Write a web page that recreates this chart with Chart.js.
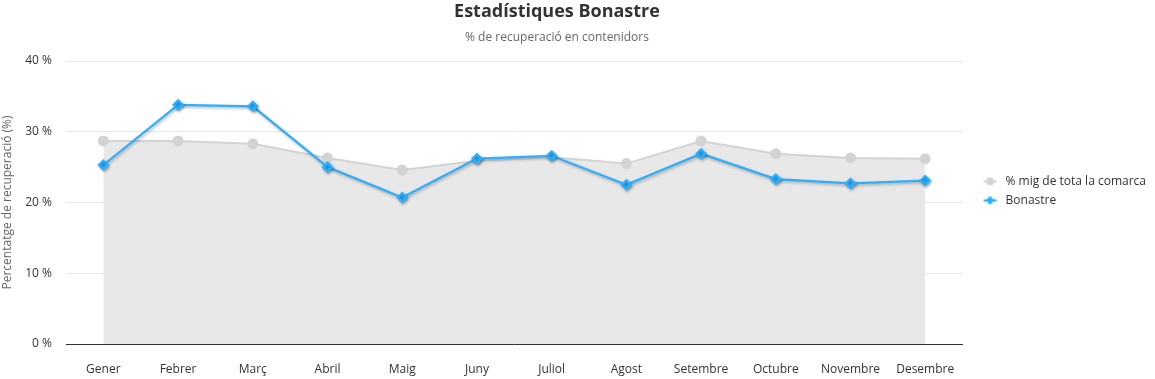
<!DOCTYPE html>
<html><head><meta charset="utf-8">
<script src="https://cdn.jsdelivr.net/npm/chart.js@4/dist/chart.umd.min.js"></script>
<style>html,body{margin:0;padding:0;background:#fff}#w{width:1155px;height:379px}</style>
</head><body><div id="w"><canvas id="c"></canvas></div>
<script>
const categories = ['Gener','Febrer','Març','Abril','Maig','Juny','Juliol','Agost','Setembre','Octubre','Novembre','Desembre'];
const comarcaValues = [28.7, 28.7, 28.3, 26.3, 24.6, 25.9, 26.4, 25.5, 28.7, 26.9, 26.3, 26.2];
const bonastreValues = [25.3, 33.8, 33.6, 25.0, 20.7, 26.2, 26.6, 22.5, 26.9, 23.3, 22.7, 23.1];
const yTicks = [0, 10, 20, 30, 40];
const seriesNames = ['% mig de tota la comarca', 'Bonastre'];
const titleText = 'Estadístiques Bonastre';
const subtitleText = '% de recuperació en contenidors';
const yTitle = 'Percentatge de recuperació (%)';

const FONT = "'Open Sans', 'Noto Sans', sans-serif";
const GREY = '#d3d3d3', BLUE = '#2caffe';

function legendIcon(color, style) {
  const c = document.createElement('canvas');
  c.width = 30; c.height = 10;
  const x = c.getContext('2d');
  x.strokeStyle = color; x.lineWidth = 2;
  x.beginPath(); x.moveTo(14, 5); x.lineTo(27, 5); x.stroke();
  x.fillStyle = color;
  x.beginPath();
  if (style === 'circle') { x.arc(20.5, 5, 4, 0, Math.PI * 2); }
  else { x.moveTo(20.5, 0.5); x.lineTo(25, 5); x.lineTo(20.5, 9.5); x.lineTo(16, 5); x.closePath(); }
  x.fill();
  return c;
}
const icons = [legendIcon(GREY, 'circle'), legendIcon(BLUE, 'diamond')];

const titlePlugin = {
  id: 'customTitle',
  afterDraw(chart) {
    const ctx = chart.ctx;
    ctx.save();
    ctx.textAlign = 'center'; ctx.textBaseline = 'middle';
    ctx.fillStyle = '#333';
    ctx.font = "bold 18px " + FONT;
    ctx.fillText(titleText, 557, 12);
    ctx.fillStyle = '#666';
    ctx.font = "12px " + FONT;
    ctx.fillText(subtitleText, 557, 38);
    ctx.restore();
  }
};
const shadowPlugin = {
  id: 'shadow',
  beforeDatasetDraw(chart, args) {
    if (args.index === 1) {
      const ctx = chart.ctx; ctx.save();
      ctx.shadowColor = 'rgba(0,0,0,0.3)'; ctx.shadowBlur = 3; ctx.shadowOffsetY = 1.5; ctx.shadowOffsetX = 1;
    }
  },
  afterDatasetDraw(chart, args) {
    if (args.index === 1) chart.ctx.restore();
  }
};

new Chart(document.getElementById('c'), {
  type: 'line',
  data: {
    labels: categories,
    datasets: [
      { label: seriesNames[0], data: comarcaValues, borderColor: GREY, backgroundColor: '#e8e8e8', order: 1,
        fill: 'origin', borderWidth: 2, pointRadius: 4.5, pointHoverRadius: 4.5, pointStyle: 'circle',
        pointBackgroundColor: GREY, pointBorderColor: GREY, tension: 0 },
      { label: seriesNames[1], data: bonastreValues, borderColor: BLUE, backgroundColor: BLUE, order: 0,
        fill: false, borderWidth: 2.2, pointRadius: 4.5, pointHoverRadius: 4.5, pointStyle: 'rectRot',
        pointBackgroundColor: BLUE, pointBorderColor: BLUE, tension: 0 }
    ]
  },
  options: {
    responsive: true, maintainAspectRatio: false, animation: false,
    layout: { padding: { top: 61, left: 0, right: -1, bottom: 0 } },
    plugins: {
      title: { display: false },
      tooltip: { enabled: false },
      legend: {
        position: 'right', align: 'start',
        title: { display: true, text: ' ', font: { size: 12 }, padding: { top: 93, bottom: 0 } },
        labels: {
          font: { family: FONT, size: 12 }, color: '#333', usePointStyle: true, pointStyleWidth: 30, padding: 7,
          generateLabels(chart) {
            return chart.data.datasets.map((d, i) => ({
              text: d.label, pointStyle: icons[i], fillStyle: d.borderColor, strokeStyle: d.borderColor,
              lineWidth: 0, hidden: false, datasetIndex: i, fontColor: '#333'
            }));
          }
        }
      }
    },
    scales: {
      x: {
        offset: true,
        afterFit(axis) { axis.height = 35; },
        grid: { display: false, drawTicks: false },
        border: { display: true, color: '#333', width: 1 },
        ticks: { font: { family: FONT, size: 12 }, color: '#333', padding: 18, maxRotation: 0, autoSkip: false }
      },
      y: {
        min: 0, max: 40,
        afterFit(axis) { axis.width = 66; },
        afterBuildTicks(axis) { axis.ticks = yTicks.map(v => ({ value: v })); },
        grid: { color: '#e6e6e6', drawTicks: false },
        border: { display: false },
        ticks: { font: { family: FONT, size: 12 }, color: '#333', padding: 14, callback: v => v + ' %' },
        title: { display: true, text: yTitle, font: { family: FONT, size: 12 }, color: '#666', padding: { top: 0, bottom: 4 } }
      }
    }
  },
  plugins: [titlePlugin, shadowPlugin]
});
</script></body></html>
